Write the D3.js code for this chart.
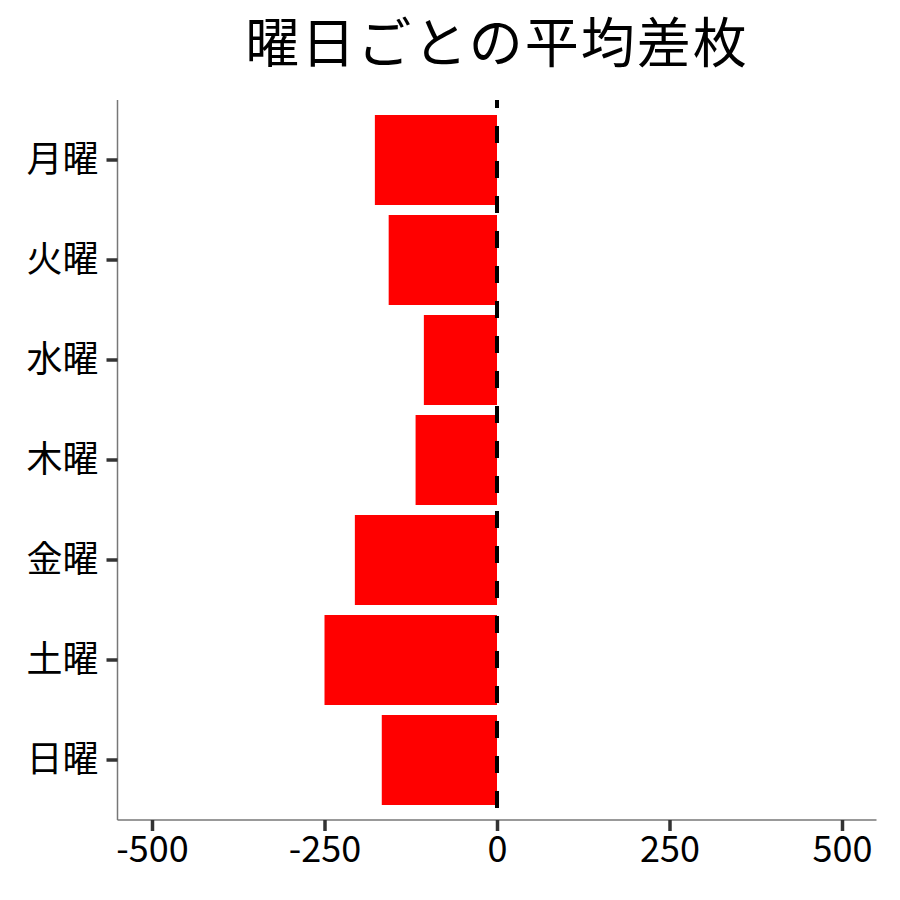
<!DOCTYPE html>
<html><head><meta charset="utf-8">
<script src="https://cdn.jsdelivr.net/npm/d3@7"></script>
<style>body{margin:0;background:#fff}svg{display:block}text{font-family:"Noto Sans CJK JP","Noto Sans",sans-serif}</style>
</head><body><svg id="c" width="900" height="900"></svg>
<script>
const days = ["月曜","火曜","水曜","木曜","金曜","土曜","日曜"];
const meanDiff = [-177, -157, -106, -118, -206, -250, -167];
const xTicks = [-500, -250, 0, 250, 500];
const titleText = "曜日ごとの平均差枚";

const svg = d3.select("#c");
const L = 117.5, R = 876.5, T = 100, B = 820;
const x = d3.scaleLinear().domain([-550, 550]).range([L, R]);
const y = d3.scaleBand().domain(days).range([T, B]).paddingInner(0.1).paddingOuter(0.15);

svg.append("defs").append("clipPath").attr("id","pc").append("rect")
  .attr("x",L).attr("y",T).attr("width",R-L).attr("height",B-T);

const data = days.map((d,i)=>({d, v: meanDiff[i]}));
svg.append("g").selectAll("rect").data(data).join("rect")
  .attr("x", d=>x(Math.min(0,d.v))).attr("width", d=>Math.abs(x(d.v)-x(0)))
  .attr("y", d=>y(d.d)).attr("height", y.bandwidth()).attr("fill","#ff0000");

// dashed zero line
svg.append("line").attr("clip-path","url(#pc)")
  .attr("x1", x(0)).attr("x2", x(0)).attr("y1", T-9).attr("y2", B)
  .attr("stroke","#000").attr("stroke-width",4).attr("stroke-dasharray","17,18");

// axes
const xa = svg.append("g").attr("transform",`translate(0,${B})`)
  .call(d3.axisBottom(x).tickValues(xTicks).tickSize(11).tickPadding(5).tickFormat(d=>String(d)));
const ya = svg.append("g").attr("transform",`translate(${L},0)`)
  .call(d3.axisLeft(y).tickSize(11).tickPadding(8));
[xa, ya].forEach(g=>{
  g.select(".domain").attr("stroke","#777").attr("stroke-width",1.5);
  g.selectAll(".tick line").attr("stroke","#333").attr("stroke-width",3.5);
  g.selectAll(".tick text").attr("fill","#000").style("font-size","36px");
});
xa.select(".domain").attr("d", `M${L},0H${R}`);
ya.select(".domain").attr("d", `M0,${T}V${B}`);

svg.append("text").attr("x", 497).attr("y", 63).attr("text-anchor","middle")
  .style("font-size","54px").style("letter-spacing","2px").attr("fill","#000").text(titleText);
</script></body></html>
